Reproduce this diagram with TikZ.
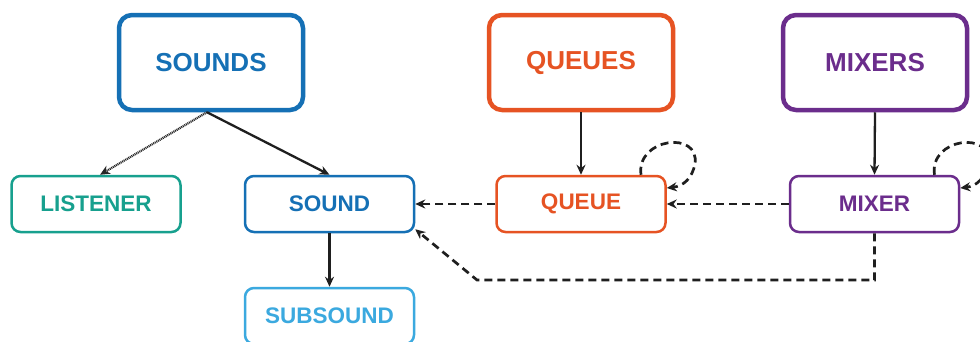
\documentclass[tikz,border=0pt]{standalone}
\usepackage{fontspec}
\setmainfont{Liberation Sans}
\usetikzlibrary{arrows.meta}
\definecolor{cblue}{HTML}{1570B5}
\definecolor{cteal}{HTML}{17A08E}
\definecolor{clight}{HTML}{3BA9DF}
\definecolor{corange}{HTML}{E65323}
\definecolor{cpurple}{HTML}{6B2D8C}
\begin{document}
\begin{tikzpicture}[x=1pt,y=-1pt,
  bigbox/.style={draw, line width=4.5pt, rounded corners=13pt, minimum width=184pt, minimum height=95pt, font=\fontsize{26}{30}\selectfont\bfseries, inner sep=0pt},
  smallbox/.style={draw, line width=2.5pt, rounded corners=9pt, minimum width=169pt, minimum height=56pt, font=\fontsize{22.5}{26}\selectfont\bfseries, inner sep=0pt},
  arr/.style={-{Stealth[length=10pt,width=9pt]}, line width=2.3pt, draw=black!88},
  darr/.style={arr, line width=2.7pt, dash pattern=on 8pt off 5pt},
  dotarr/.style={arr, line width=2.2pt, draw=black!85, dash pattern=on 1pt off 0.8pt}]
\useasboundingbox (0,0) rectangle (980,341);
\clip (0,0) rectangle (980,341);
\fill[white] (0,0) rectangle (980,341);

\node[bigbox, draw=cblue, text=cblue] (sounds) at (211,62.5) {SOUNDS};
\node[bigbox, draw=corange, text=corange] (queues) at (581,62.5) {QUEUES};
\node[bigbox, draw=cpurple, text=cpurple] (mixers) at (875,62.5) {MIXERS};

\node[smallbox, draw=cteal, text=cteal] (listener) at (96,204) {LISTENER};
\node[smallbox, draw=cblue, text=cblue] (sound) at (329.5,204) {SOUND};
\node[smallbox, draw=clight, text=clight] (subsound) at (329.5,316) {SUBSOUND};
\node[smallbox, draw=corange, text=corange] (queue) at (581,204) {QUEUE};
\node[smallbox, draw=cpurple, text=cpurple] (mixer) at (874.5,204) {MIXER};

\draw[dotarr] ([xshift=-4pt]sounds.south) -- ([xshift=4pt]listener.north);
\draw[arr] ([xshift=-4pt]sounds.south) -- (sound.north);
\draw[arr] (sound.south) -- (subsound.north);
\draw[arr] (queues.south) -- (queue.north);
\draw[arr] (mixers.south) -- (mixer.north);

\draw[darr] (queue.west) -- (sound.east);
\draw[darr] (mixer.west) -- (queue.east);

\coordinate (bend) at (477,280);
\draw[darr] (mixer.south) |- (bend) -- ([yshift=4pt]sound.south east);

\draw[darr] ([xshift=60pt]queue.north) .. controls (636,138) and (700,130) .. (695,164) .. controls (692,178) and (684,186) .. ([yshift=16pt]queue.east);
\draw[darr] ([xshift=60pt]mixer.north) .. controls (929,138) and (993,130) .. (988,164) .. controls (985,178) and (977,186) .. ([yshift=16pt]mixer.east);
\end{tikzpicture}
\end{document}
